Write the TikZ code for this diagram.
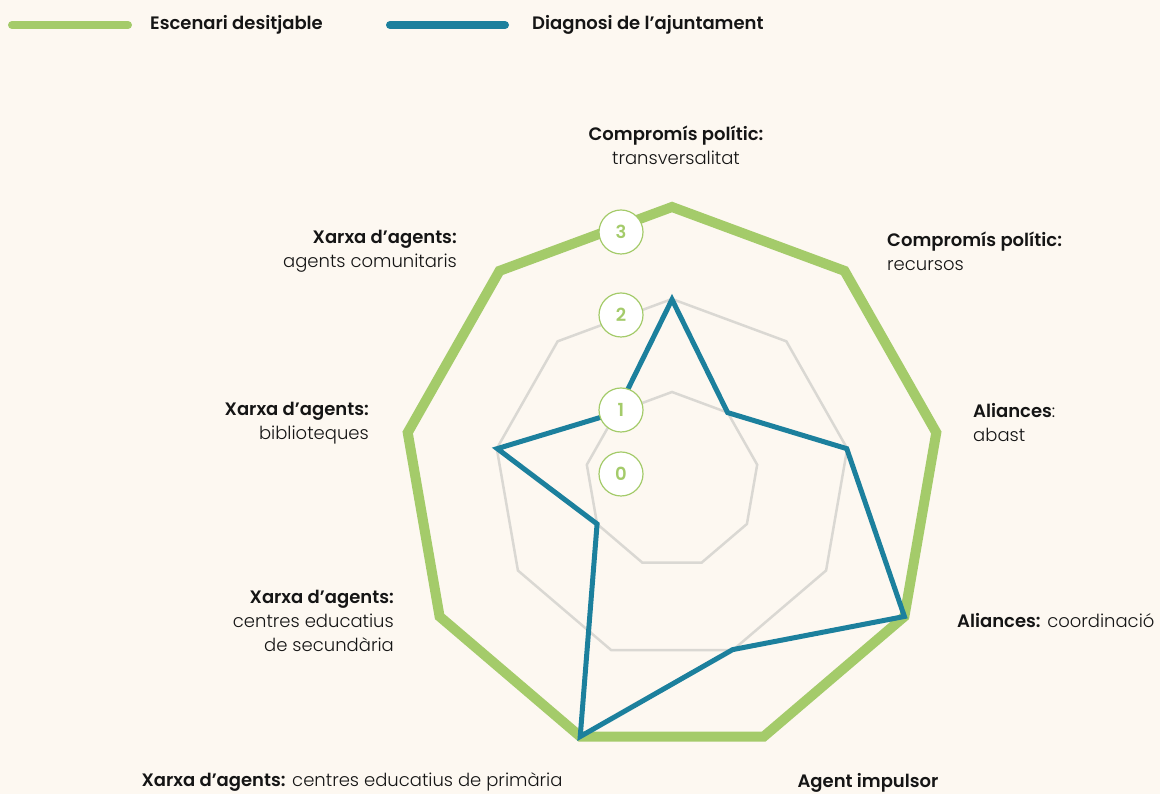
\documentclass[tikz,border=0pt]{standalone}
\usepackage{fontspec}
\setmainfont{Poppins}[UprightFont={* Light}, BoldFont={* SemiBold}]
\usetikzlibrary{positioning}
\usetikzlibrary{calc}
\definecolor{cream}{HTML}{FDF8F1}
\definecolor{leaf}{HTML}{A4CB6A}
\definecolor{petrol}{HTML}{1C809D}
\definecolor{ringgrey}{HTML}{DAD8D3}
\definecolor{ink}{HTML}{151515}

\begin{document}
\begin{tikzpicture}[x=1pt,y=1pt]
\tikzset{every node/.style={font=\fontsize{18}{24}\selectfont, text=ink}}
\tikzset{ring/.style={draw=ringgrey, line width=2.5pt}}
\tikzset{target/.style={draw=leaf, line width=10pt}}
\tikzset{diagnosis/.style={draw=petrol, line width=5pt}}
\tikzset{key/.style={line width=8pt, line cap=round}}
\tikzset{level/.style={circle, draw=leaf, line width=1.2pt, fill=white, minimum size=44pt, inner sep=0pt, text=leaf, font=\fontsize{18}{24}\selectfont\bfseries}}
\tikzset{axislabel/.style={inner sep=0pt}}
\fill[cream] (0,0) rectangle (1160,794);
\useasboundingbox (0,0) rectangle (1160,794);
\coordinate (c) at (672,314);
\foreach \i in {0,...,8}{
  \coordinate (ra\i) at ($(c)+({0.983*88*cos(90-40*\i)},{88*sin(90-40*\i)})$);
  \coordinate (rb\i) at ($(c)+({0.983*181*cos(90-40*\i)},{181*sin(90-40*\i)})$);
  \coordinate (rc\i) at ($(c)+({0.983*273*cos(90-40*\i)},{273*sin(90-40*\i)})$);
}
\foreach \v [count=\i from 0] in {2,1,2,3,2,3,1,2,1}
  \coordinate (d\i) at ($(c)+({0.983*(92.5*\v-4.5)*cos(90-40*\i)},{(92.5*\v-4.5)*sin(90-40*\i)})$);
\draw[ring] (ra0) \foreach \i in {1,...,8}{-- (ra\i)} -- cycle;
\draw[ring] (rb0) \foreach \i in {1,...,8}{-- (rb\i)} -- cycle;
\draw[target] (rc0) \foreach \i in {1,...,8}{-- (rc\i)} -- cycle;
\draw[diagnosis] (d0) \foreach \i in {1,...,8}{-- (d\i)} -- cycle;
\node[level] (lv3) at (621,562) {3};
\node[level] (lv2) at (621,479) {2};
\node[level] (lv1) at (621,384) {1};
\node[level] (lv0) at (621,320) {0};
\node[axislabel, align=center] (ax0) at (676,649) {\textbf{Compromís polític:}\\transversalitat};
\node[axislabel, align=left, anchor=west] (ax1) at (887,543) {\textbf{Compromís polític:}\\recursos};
\node[axislabel, align=left, anchor=west] (ax2) at (973,371) {\textbf{Aliances}:\\abast};
\node[axislabel, anchor=west] (ax3) at (957,173) {\textbf{Aliances:} coordinació};
\node[axislabel] (ax4) at (868,11) {\textbf{Agent impulsor}};
\node[axislabel] (ax5) at (352,12) {\textbf{Xarxa d’agents:} centres educatius de primària};
\node[axislabel, align=right, anchor=east] (ax6) at (394,173) {\textbf{Xarxa d’agents:}\\centres educatius\\de secundària};
\node[axislabel, align=right, anchor=east] (ax7) at (369,371) {\textbf{Xarxa d’agents:}\\biblioteques};
\node[axislabel, align=right, anchor=east] (ax8) at (457,543) {\textbf{Xarxa d’agents:}\\agents comunitaris};
\coordinate (ga) at (12,769);
\coordinate (gb) at (128,769);
\coordinate (pa) at (390,769);
\coordinate (pb) at (505,769);
\draw[key, leaf] (ga) -- (gb);
\draw[key, petrol] (pa) -- (pb);
\node[axislabel, anchor=west, right=22pt of gb, font=\fontsize{18}{24}\selectfont\bfseries] (keyg) {Escenari desitjable};
\node[axislabel, anchor=west, right=27pt of pb, font=\fontsize{18}{24}\selectfont\bfseries] (keyp) {Diagnosi de l’ajuntament};
\end{tikzpicture}
\end{document}
